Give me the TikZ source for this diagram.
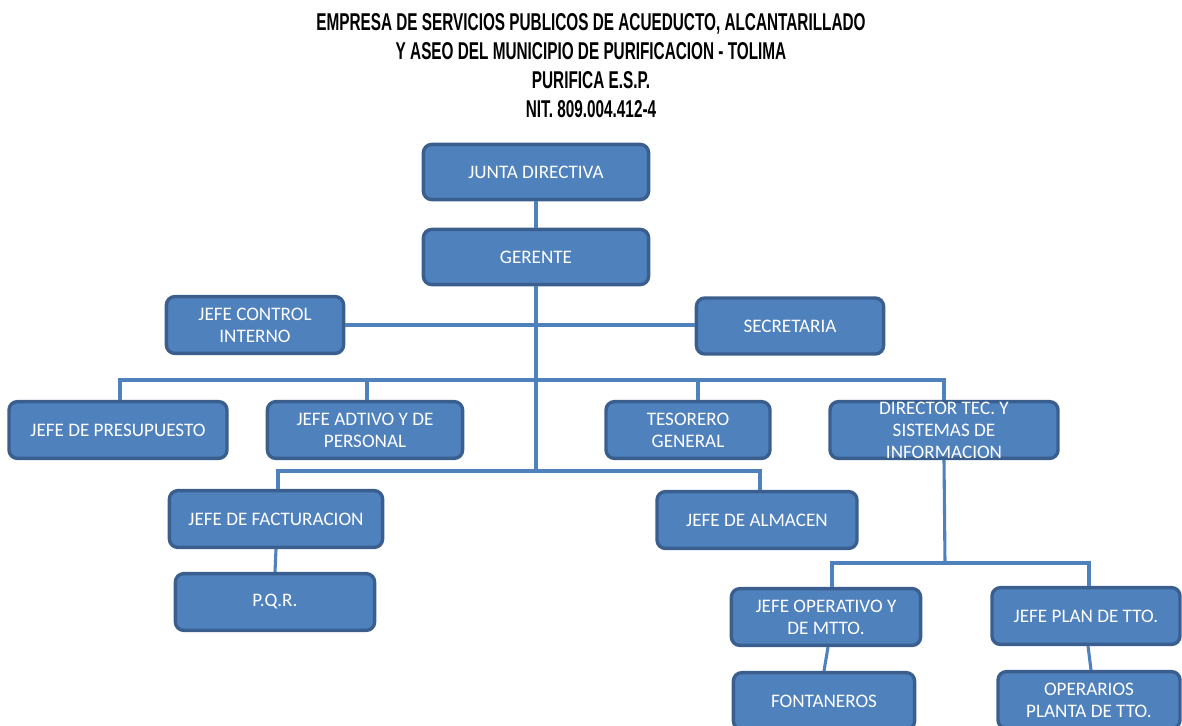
\documentclass[tikz,border=0pt]{standalone}
\usepackage{fontspec}
\setmainfont{Carlito}
\newfontfamily\titlefont[FakeStretch=0.63]{Liberation Sans}
\usetikzlibrary{calc}
\definecolor{boxfill}{HTML}{4F81BD}
\definecolor{boxline}{HTML}{3A5F8E}
\begin{document}
\begin{tikzpicture}[x=0.025cm, y=-0.025cm,
  cargo/.style={draw=boxline, fill=boxfill, line width=2.4pt, rounded corners=6pt,
    text=white, align=center, inner sep=1pt, minimum height=1.42cm,
    font=\fontsize{13.6}{15.5}\selectfont},
  enlace/.style={draw=boxfill, line width=2.2pt}]
\useasboundingbox (0,0) rectangle (1182,725);

\node[align=center, font=\titlefont\bfseries\fontsize{17.3}{20.6}\selectfont] (titulo) at (591,66)
  {EMPRESA DE SERVICIOS PUBLICOS DE ACUEDUCTO, ALCANTARILLADO\\
   Y ASEO DEL MUNICIPIO DE PURIFICACION - TOLIMA\\
   PURIFICA E.S.P.\\
   NIT. 809.004.412-4};

\node[cargo, minimum width=5.63cm, minimum height=1.38cm] (junta) at (536,172) {JUNTA DIRECTIVA};
\node[cargo, minimum width=5.63cm, minimum height=1.38cm] (gerente) at (536,257) {GERENTE};
\node[cargo, minimum width=4.43cm] (control) at (255,325) {JEFE CONTROL\\INTERNO};
\node[cargo, minimum width=4.68cm, minimum height=1.4cm] (secretaria) at (790,326) {SECRETARIA};

\node[cargo, minimum width=5.45cm] (presupuesto) at (118,430) {JEFE DE PRESUPUESTO};
\node[cargo, minimum width=4.88cm] (adtivo) at (365,430) {JEFE ADTIVO Y DE\\PERSONAL};
\node[cargo, minimum width=4.1cm] (tesorero) at (688,430) {TESORERO\\GENERAL};
\node[cargo, minimum width=5.7cm] (director) at (944,430)
  {\smash{\raisebox{-5pt}{\begin{tabular}{@{}c@{}}DIRECTOR TEC. Y\\SISTEMAS DE\\INFORMACION\end{tabular}}}};

\node[cargo, minimum width=5.33cm] (facturacion) at (276,519) {JEFE DE FACTURACION};
\node[cargo, minimum width=5.0cm] (almacen) at (757,520) {JEFE DE ALMACEN};
\node[cargo, minimum width=4.98cm] (pqr) at (275,602) {P.Q.R.};

\node[cargo, minimum width=4.73cm] (operativo) at (826,617) {JEFE OPERATIVO Y\\DE MTTO.};
\node[cargo, minimum width=4.7cm] (plan) at (1086,616) {JEFE PLAN DE TTO.};
\node[cargo, minimum width=4.53cm] (fontaneros) at (824,701) {FONTANEROS};
\node[cargo, minimum width=4.55cm] (operarios) at (1089,700) {OPERARIOS\\PLANTA DE TTO.};

% conexiones
\coordinate (bus1) at (536,380);
\coordinate (bus2) at (536,471);
\coordinate (bus3) at (945,563);

\draw[enlace] (junta) -- (gerente);
\draw[enlace] (control.east) -- (control.east -| secretaria.west);
\draw[enlace] (gerente.south) -- (bus2);
\draw[enlace] ([xshift=0.05cm]presupuesto.north) |- (bus1) -| (director.north);
\draw[enlace] ([xshift=0.05cm]adtivo.north) -- ([xshift=0.05cm]adtivo.north |- bus1);
\draw[enlace] ([xshift=0.25cm]tesorero.north) -- ([xshift=0.25cm]tesorero.north |- bus1);
\draw[enlace] ([xshift=0.05cm]facturacion.north) |- (bus2) -| ([xshift=0.075cm]almacen.north);
\draw[enlace] (facturacion.south) -- (pqr.north);

\draw[enlace] (director.south) -- (bus3);
\draw[enlace] ([xshift=0.15cm]operativo.north) |- (bus3) -| ([xshift=0.075cm]plan.north);
\draw[enlace] ([xshift=0.05cm]operativo.south) -- (fontaneros.north);
\draw[enlace] ([xshift=0.05cm]plan.south) -- ([xshift=0.05cm]operarios.north);
\end{tikzpicture}
\end{document}
